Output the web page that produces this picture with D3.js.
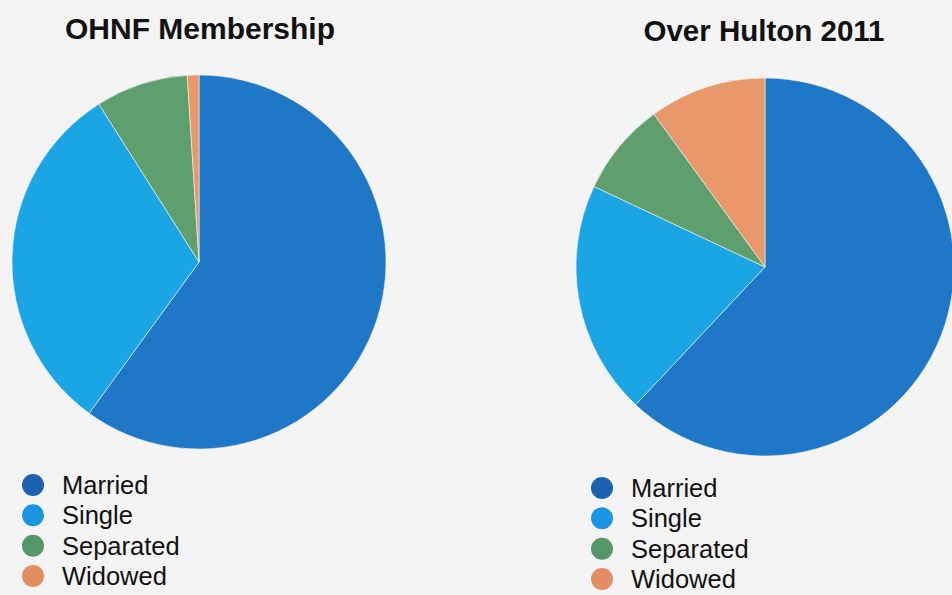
<!DOCTYPE html>
<html>
<head>
<meta charset="utf-8">
<script src="https://cdn.jsdelivr.net/npm/d3@7"></script>
<style>
  html, body { margin: 0; padding: 0; background: #f4f4f4; }
  svg { display: block; }
  .title { font-family: "Liberation Sans", Arial, Helvetica, sans-serif; font-weight: bold; fill: #111; }
  .legend text { font-family: "Liberation Sans", Arial, Helvetica, sans-serif; font-size: 25.5px; fill: #111; }
</style>
</head>
<body>
<svg id="chart"></svg>
<script>
// Data
const categories = ["Married", "Single", "Separated", "Widowed"];
const ohnfValues = [60, 31, 8, 1];
const overHultonValues = [62, 20, 8, 10];

// Colours
const sliceColors = ["#1f78c7", "#1aa5e5", "#5e9f6d", "#e9986b"];
const legendColors = ["#1c62b2", "#1b95e2", "#56976a", "#e38e62"];

const W = 952, H = 595;

const svg = d3.select("#chart").attr("width", W).attr("height", H);

const charts = [
  { title: "OHNF Membership", values: ohnfValues, cx: 199, cy: 262, r: 187,
    titleX: 200, titleY: 39, titleSize: 30, legX: 33, legY: 485 },
  { title: "Over Hulton 2011", values: overHultonValues, cx: 765, cy: 267, r: 189,
    titleX: 764, titleY: 41, titleSize: 29.5, legX: 602, legY: 488 },
];

const pie = d3.pie().sort(null).value((d) => d.value);

charts.forEach((c) => {
  const data = categories.map((k, i) => ({ key: k, value: c.values[i] }));
  const color = d3.scaleOrdinal().domain(categories).range(sliceColors);
  const legendColor = d3.scaleOrdinal().domain(categories).range(legendColors);
  const arc = d3.arc().innerRadius(0).outerRadius(c.r);

  svg.append("text")
    .attr("class", "title")
    .attr("x", c.titleX)
    .attr("y", c.titleY)
    .attr("text-anchor", "middle")
    .attr("font-size", c.titleSize)
    .text(c.title);

  const g = svg.append("g").attr("transform", `translate(${c.cx},${c.cy})`);

  g.selectAll("path")
    .data(pie(data))
    .join("path")
    .attr("d", arc)
    .attr("fill", (d) => color(d.data.key))
    .attr("stroke", "#f4f4f4")
    .attr("stroke-width", 0.6);

  // Legend
  const y = d3.scalePoint().domain(categories).range([0, 91]);
  const leg = svg.append("g")
    .attr("class", "legend")
    .attr("transform", `translate(${c.legX},${c.legY})`);

  const items = leg.selectAll("g")
    .data(categories)
    .join("g")
    .attr("transform", (d) => `translate(0,${y(d)})`);

  items.append("circle")
    .attr("r", 11)
    .attr("fill", (d) => legendColor(d));

  items.append("text")
    .attr("x", 29)
    .attr("y", 9)
    .text((d) => d);
});
</script>
</body>
</html>
